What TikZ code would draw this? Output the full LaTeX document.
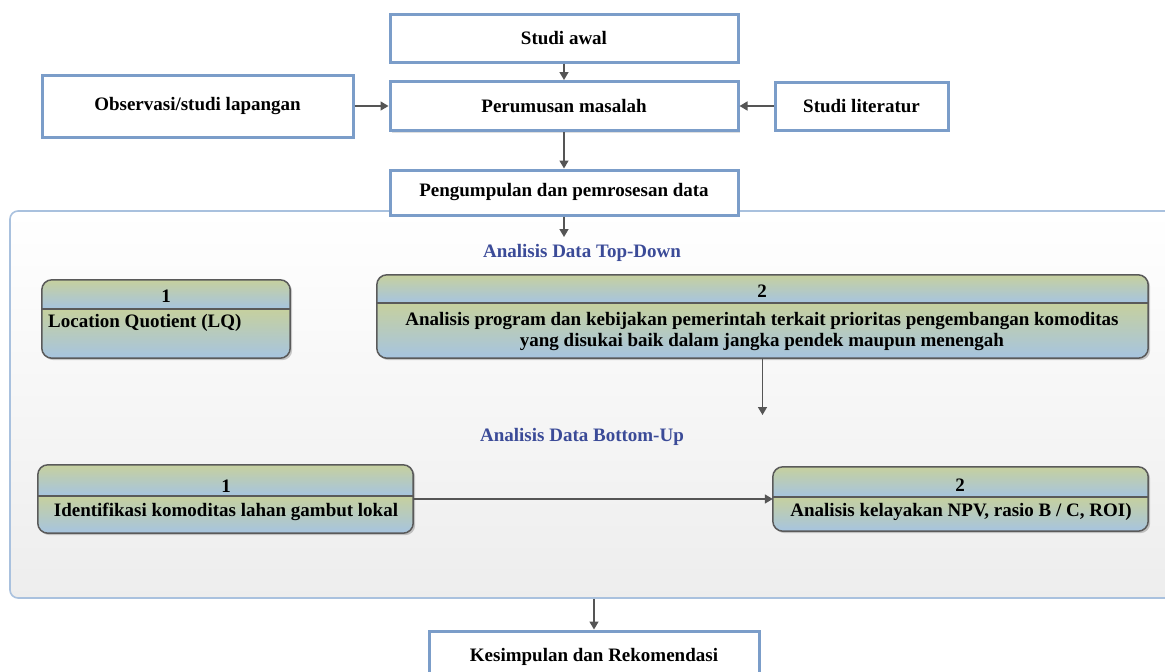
\documentclass[tikz,border=0pt]{standalone}
\usepackage{fontspec}
\setmainfont{Liberation Serif}
\usepackage{xcolor}
\usepackage{tikz}
\usetikzlibrary{arrows.meta, positioning, shadows}

\definecolor{boxline}{HTML}{7B9DC9}
\definecolor{panelline}{HTML}{A9C1DE}
\definecolor{headgreen}{HTML}{C6D09E}
\definecolor{headblue}{HTML}{A6C4E0}
\definecolor{titleblue}{HTML}{3B4B98}
\definecolor{arrowgray}{HTML}{555555}
\definecolor{procline}{HTML}{5A5A5A}

\begin{document}
\begin{tikzpicture}[x=1pt, y=-1pt,
    stepbox/.style={rectangle, draw=boxline, line width=3pt, fill=white, font=\fontsize{19}{21}\selectfont\bfseries,
      drop shadow={shadow xshift=2pt, shadow yshift=-2pt, opacity=0.25}},
    procbox/.style={rectangle, minimum width=#1},
    boxtext/.style={inner sep=0pt, font=\fontsize{19}{21}\selectfont\bfseries},
    titletext/.style={inner sep=0pt, text=titleblue, font=\fontsize{19}{21}\selectfont\bfseries},
    arrow/.style={draw=arrowgray, line width=1.6pt, -{Triangle[width=9pt,length=8pt]}}]

    \useasboundingbox (0,0) rectangle (1165,672);
    \clip (0,0) rectangle (1165,672);

    % outer panel
    \node [rectangle, rounded corners=8pt, draw=panelline, line width=1.6pt, top color=white, bottom color=gray!14,
      minimum width=1168pt, minimum height=387pt] (panel) at (594,404.5) {};

    % top of the flow
    \node [stepbox, minimum width=348pt, minimum height=48pt] (awal) at (564,38) {Studi awal};
    \node [stepbox, minimum width=348pt, minimum height=49pt] (masalah) at (564,106) {Perumusan masalah};
    \node [stepbox, minimum width=311pt, minimum height=62pt] (obs) at (197.5,106) {Observasi/studi lapangan};
    \node [stepbox, minimum width=173pt, minimum height=48pt] (lit) at (861.5,106) {Studi literatur};
    \node [stepbox, minimum width=348pt, minimum height=45pt] (kumpul) at (564,192.5) {Pengumpulan dan pemrosesan data};
    \node [stepbox, minimum width=330pt, minimum height=52pt] (kesim) at (594,657) {Kesimpulan dan Rekomendasi};

    % analysis boxes
    \node [procbox=248pt, minimum height=78pt] (t1) at (166,319) {};
    \node [procbox=771pt, minimum height=83pt] (t2) at (762.5,316.5) {};
    \node [procbox=375pt, minimum height=68pt] (b1) at (225.5,499) {};
    \node [procbox=375pt, minimum height=64pt] (b2) at (960.5,499) {};

    \foreach \bx/\yd in {t1/309, t2/303, b1/496, b2/497} {
      \fill [black, opacity=0.2, rounded corners=10pt] ([shift={(2,2)}]\bx.north west) rectangle ([shift={(2,2)}]\bx.south east);
      \begin{scope}
        \clip [rounded corners=10pt] (\bx.north west) rectangle (\bx.south east);
        \shade [top color=headgreen, bottom color=headblue] (\bx.north west) rectangle (\bx.east |- 0,\yd);
        \shade [top color=headgreen, bottom color=headblue] (\bx.west |- 0,\yd) rectangle (\bx.south east);
      \end{scope}
      \draw [procline, line width=1.5pt, rounded corners=10pt] (\bx.north west) rectangle (\bx.south east);
      \draw [procline, line width=1.5pt] (\bx.west |- 0,\yd) -- (\bx.east |- 0,\yd);
    }

    % texts in the analysis boxes
    \node [boxtext] (t1num) at (166,296) {1};
    \node [boxtext, anchor=west] (t1txt) at (48,323) {Location Quotient (LQ)};
    \node [boxtext] (t2num) at (762,291) {2};
    \node [boxtext, align=center] (t2txt) at (762,332) {Analisis program dan kebijakan pemerintah terkait prioritas pengembangan komoditas\\yang disukai baik dalam jangka pendek maupun menengah};
    \node [boxtext] (b1num) at (226,486) {1};
    \node [boxtext] (b1txt) at (226,512) {Identifikasi komoditas lahan gambut lokal};
    \node [boxtext] (b2num) at (960,485) {2};
    \node [boxtext] (b2txt) at (961,512) {Analisis kelayakan NPV, rasio B / C, ROI)};

    % Labels
    \node [titletext] (toptitle) at (582,253) {Analisis Data Top-Down};
    \node [titletext] (bottitle) at (582,437) {Analisis Data Bottom-Up};

    \coordinate (topin) at (564,237);
    \coordinate (t2out) at (762.5,415);

    % Arrows
    \draw [arrow] (awal) -- (masalah);
    \draw [arrow] (obs) -- (masalah);
    \draw [arrow] (lit) -- (masalah);
    \draw [arrow] (masalah) -- (kumpul);
    \draw [arrow] (kumpul) -- (topin);
    \draw [arrow] (t2) -- (t2out);
    \draw [arrow] (b1) -- (b2);
    \draw [arrow] (panel) -- (kesim);
\end{tikzpicture}
\end{document}
